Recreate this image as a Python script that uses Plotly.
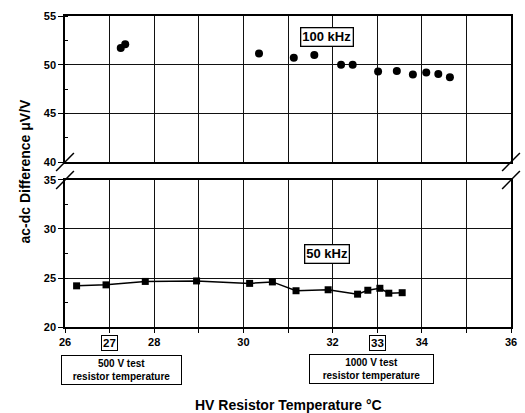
import plotly.graph_objects as go

# 100 kHz data (upper panel)
x100 = [27.25, 27.35, 30.35, 31.13, 31.59, 32.19, 32.45, 33.02, 33.44, 33.80, 34.10, 34.37, 34.63]
y100 = [51.7, 52.1, 51.15, 50.7, 51.0, 50.0, 49.98, 49.3, 49.35, 49.0, 49.2, 49.05, 48.7]

# 50 kHz data (lower panel)
x50 = [26.26, 26.92, 27.80, 28.95, 30.14, 30.65, 31.18, 31.90, 32.56, 32.79, 33.06, 33.26, 33.56]
y50 = [24.2, 24.3, 24.65, 24.7, 24.45, 24.6, 23.7, 23.8, 23.35, 23.75, 23.95, 23.45, 23.5]

x_tickvals = list(range(26, 37))
x_ticktext = ["26", "", "28", "", "30", "", "32", "", "34", "", "36"]
y_top_ticks = [40, 45, 50, 55]
y_bot_ticks = [20, 25, 30, 35]

FONT = "Liberation Sans, Arial, sans-serif"
GRID = "#111111"

fig = go.Figure()
fig.add_trace(go.Scatter(x=x100, y=y100, mode="markers", xaxis="x2", yaxis="y2",
                         marker=dict(symbol="circle", size=8, color="black"),
                         showlegend=False))
fig.add_trace(go.Scatter(x=x50, y=y50, mode="lines+markers", xaxis="x", yaxis="y",
                         line=dict(color="black", width=1.5),
                         marker=dict(symbol="square", size=7, color="black"),
                         showlegend=False))

axis_common = dict(showline=True, linecolor="black", linewidth=1.5, mirror=True,
                   showgrid=True, gridcolor=GRID, gridwidth=1.3, zeroline=False)

fig.update_layout(
    width=525, height=413,
    margin=dict(l=65, r=8, t=16, b=86),
    plot_bgcolor="white", paper_bgcolor="white",
    font=dict(family=FONT, color="black"),
    xaxis=dict(range=[26, 36], domain=[0, 1], anchor="y", tickvals=x_tickvals,
               ticktext=x_ticktext, ticks="outside", ticklen=4, tickcolor="black",
               tickfont=dict(size=11, weight="bold", family=FONT), **axis_common),
    xaxis2=dict(range=[26, 36], domain=[0, 1], anchor="y2", matches="x",
                tickvals=x_tickvals, showticklabels=False, ticks="", **axis_common),
    yaxis=dict(range=[20, 35], domain=[0, 0.4727], anchor="x", tickvals=y_bot_ticks,
               ticks="outside", ticklen=5, tickcolor="black",
               minor=dict(dtick=2.5, tick0=20, ticks="inside", ticklen=3, tickcolor="black", showgrid=False),
               tickfont=dict(size=11, weight="bold", family=FONT), **axis_common),
    yaxis2=dict(range=[40, 55], domain=[0.5305, 1], anchor="x2", tickvals=y_top_ticks,
                ticks="outside", ticklen=5, tickcolor="black",
                minor=dict(dtick=2.5, tick0=40, ticks="inside", ticklen=3, tickcolor="black", showgrid=False),
                tickfont=dict(size=11, weight="bold", family=FONT), **axis_common),
)

def px2paper(px, py):
    return (px - 65) / 452.0, (327 - py) / 311.0

shapes = []
for cx in (65, 517):
    for cy in (162, 180):
        x0, y0 = px2paper(cx - 9, cy + 9)
        x1, y1 = px2paper(cx + 9, cy - 9)
        shapes.append(dict(type="line", xref="paper", yref="paper", x0=x0, y0=y0, x1=x1, y1=y1,
                           line=dict(color="black", width=1.5)))
fig.update_layout(shapes=shapes)

C = dict(xanchor="center", yanchor="middle", showarrow=False)
boxfont = dict(family=FONT, size=13, color="black", weight="bold")
ann = []
ann.append(dict(x=31.88, y=52.8, xref="x2", yref="y2", text="100 kHz",
                font=boxfont, bordercolor="black", borderwidth=1.3, borderpad=1, bgcolor="white", **C))
ann.append(dict(x=31.88, y=27.4, xref="x", yref="y", text="50 kHz",
                font=boxfont, bordercolor="black", borderwidth=1.3, borderpad=1, bgcolor="white", **C))
for xv, lbl in ((27, "27"), (33, "33")):
    px_, py_ = px2paper(0, 342.5)
    ann.append(dict(x=xv, y=py_, xref="x", yref="paper", text=lbl,
                    font=dict(family=FONT, size=11.5, color="black", weight="bold"),
                    bordercolor="black", borderwidth=1, borderpad=1, **C))
for cx, cy, w, txt in ((122.5, 370, 121, "500 V test<br>resistor temperature"),
                       (375.5, 369, 125, "1000 V test<br>resistor temperature")):
    xp, yp = px2paper(cx, cy)
    ann.append(dict(x=xp, y=yp, xref="paper", yref="paper", text=txt,
                    font=dict(family=FONT, size=10, color="black", weight="bold"),
                    bordercolor="black", borderwidth=1, borderpad=2, width=w - 6, **C))
xp, yp = px2paper(291, 405)
ann.append(dict(x=xp, y=yp, xref="paper", yref="paper", text="HV Resistor Temperature °C",
                font=dict(family=FONT, size=14, color="black", weight="bold"), **C))
xp, yp = px2paper(24, 171)
ann.append(dict(x=xp, y=yp, xref="paper", yref="paper", text="ac-dc Difference μV/V",
                textangle=-90,
                font=dict(family=FONT, size=14, color="black", weight="bold"), **C))
fig.update_layout(annotations=ann)

fig.write_html("out.html", config={"displayModeBar": False},
               post_script="document.body.style.margin='0';")
